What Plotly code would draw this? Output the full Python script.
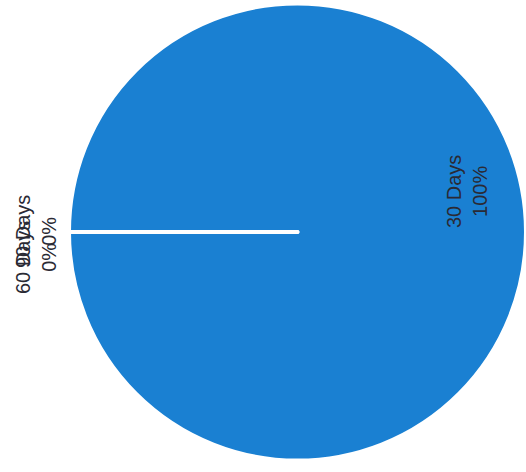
import plotly.graph_objects as go

categories = ["30 Days", "60 Days", "90 Days"]
values = [100, 0, 0]
colors = ["#1a80d2", "#1a80d2", "#1a80d2"]

total = sum(values)
pct = [round(100 * v / total) for v in values]
label_text = [f"{c}<br>{p}%" for c, p in zip(categories, pct)]

W, H = 526, 472

fig = go.Figure(go.Pie(
    labels=categories,
    values=values,
    sort=False,
    direction="clockwise",
    rotation=270,
    textinfo="none",
    hoverinfo="label+percent",
    marker=dict(colors=colors, line=dict(color="white", width=4)),
    domain=dict(x=[69 / W, 1.0], y=[11 / H, 469 / H]),
    showlegend=False,
))

# rotated data labels (the source chart is scanned rotated by 90 degrees)
label_pos = [(467, 192), (36, 258), (36, 232)]
for txt, (x, y) in zip(label_text, label_pos):
    fig.add_annotation(
        text=txt, x=x / W, y=1 - y / H, xref="paper", yref="paper",
        xanchor="center", yanchor="middle",
        showarrow=False, textangle=-90, align="center",
        font=dict(family="Liberation Sans, Arial, sans-serif", size=20, color="#2a2a34"),
    )

fig.update_layout(
    width=W, height=H,
    margin=dict(l=0, r=0, t=0, b=0),
    paper_bgcolor="white", plot_bgcolor="white",
)

fig.write_html("out.html", config={"displayModeBar": False},
               post_script="document.body.style.margin='0';")
